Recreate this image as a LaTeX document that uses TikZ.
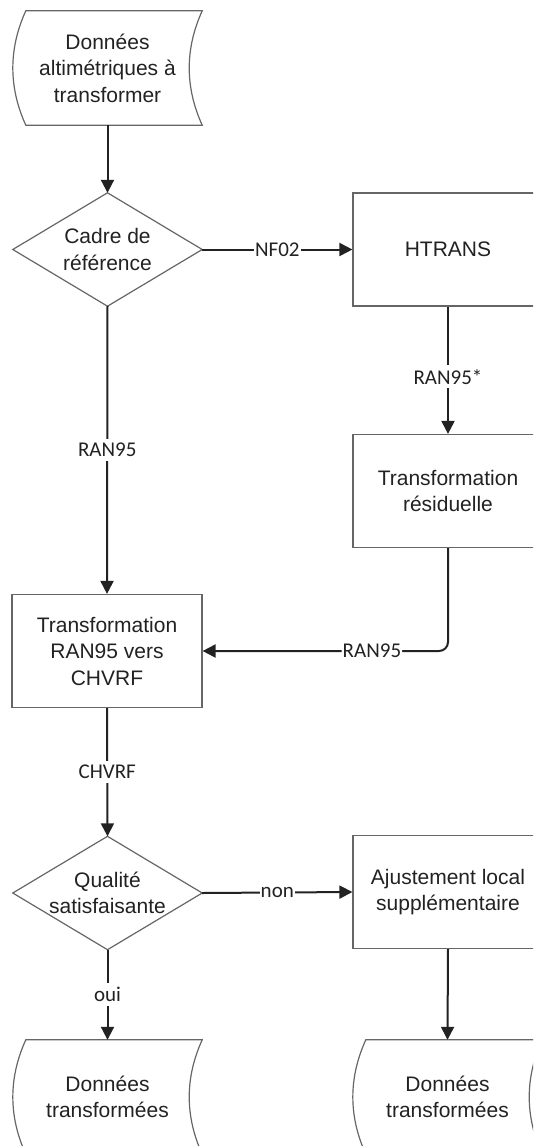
\documentclass[tikz,border=0pt]{standalone}
\usepackage{fontspec}
\setmainfont{Liberation Sans}
\newfontfamily\labfont{Carlito}
\usetikzlibrary{arrows.meta}
\definecolor{ink}{HTML}{222222}
\definecolor{edgegray}{HTML}{666666}
\begin{document}
\begin{tikzpicture}[x=1pt,y=-1pt,
  txt/.style={align=center, text=ink, font=\fontsize{21}{26.5}\selectfont, inner sep=0pt},
  procbox/.style={txt, draw=edgegray, line width=1.2pt, minimum width=190pt, minimum height=113pt},
  decbox/.style={txt, minimum width=189pt, minimum height=113pt},
  databox/.style={txt, minimum width=189pt, minimum height=114pt},
  outline/.style={draw=edgegray, line width=1.2pt},
  conn/.style={draw=ink, line width=2pt, -{Triangle[length=13pt,width=13pt]}},
  lab/.style={fill=white, text=ink, font=\labfont\fontsize{21}{24}\selectfont, inner xsep=1pt, inner ysep=4pt}
]
\useasboundingbox (0,0) rectangle (533,1146);
\clip (0,0) rectangle (533,1146);
\fill[white] (0,0) rectangle (533,1146);

% nodes
\node[databox] (d1) at (107.5,68) {Données\\altimétriques à\\transformer};
\node[decbox] (dec1) at (107.5,249.5) {Cadre de\\référence};
\node[procbox] (ht) at (448,249.5) {HTRANS};
\node[procbox] (res) at (448,491) {Transformation\\résiduelle};
\node[procbox] (tr) at (107,651) {Transformation\\RAN95 vers\\CHVRF};
\node[decbox] (dec2) at (107.5,893) {Qualité\\satisfaisante};
\node[procbox] (adj) at (448,892) {Ajustement local\\supplémentaire};
\node[databox] (d2) at (107.5,1097) {Données\\transformées};
\node[databox] (d3) at (447.5,1097) {Données\\transformées};

% shapes
\foreach \n in {d1,d2,d3}{
  \draw[outline] ([xshift=13pt]\n.north west) -- (\n.north east)
    .. controls +(-17.3,38) and +(-17.3,-38) .. (\n.south east)
    -- ([xshift=13pt]\n.south west)
    .. controls +(-17.3,-38) and +(-17.3,38) .. ([xshift=13pt]\n.north west) -- cycle;
}
\foreach \n in {dec1,dec2}{
  \draw[outline] (\n.north) -- (\n.east) -- (\n.south) -- (\n.west) -- cycle;
}

% connectors
\draw[conn] (d1.south) -- (dec1.north);
\draw[conn] (dec1.east) -- node[lab] {NF02} (ht.west);
\draw[conn] (dec1.south) -- node[lab] {RAN95} (tr.north);
\draw[conn] (ht.south) -- node[lab, pos=0.55] {RAN95*} (res.north);
\draw[conn, rounded corners=9pt] (res.south) |- node[lab, pos=0.655] {RAN95} (tr.east);
\draw[conn] (tr.south) -- node[lab] {CHVRF} (dec2.north);
\draw[conn] (dec2.east) -- node[lab] {non} (adj.west);
\draw[conn] (dec2.south) -- node[lab] {oui} (d2.north);
\draw[conn] (adj.south) -- (d3.north);
\end{tikzpicture}
\end{document}
